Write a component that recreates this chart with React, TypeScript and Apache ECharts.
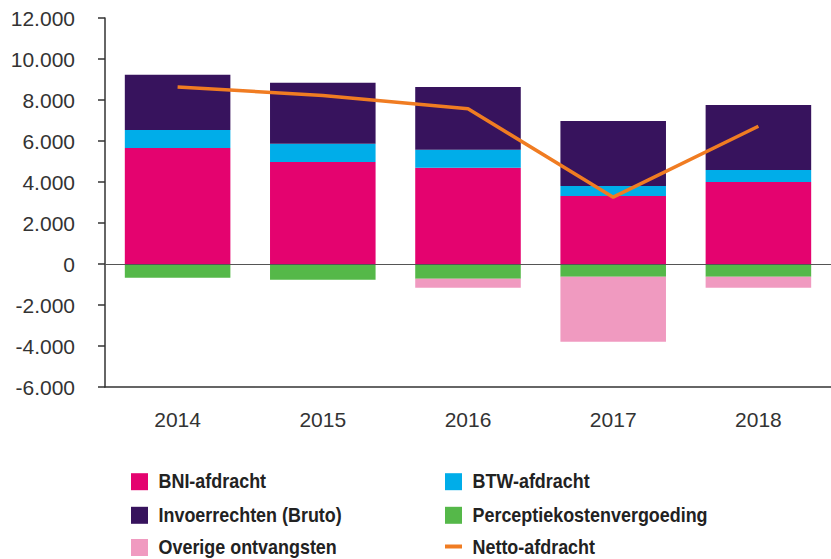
import React, { useEffect, useRef } from "react";
import * as echarts from "echarts";

const years = ["2014", "2015", "2016", "2017", "2018"];
const bniAfdracht = [5660, 4980, 4690, 3320, 4000];
const btwAfdracht = [880, 880, 880, 490, 590];
const invoerrechten = [2690, 2980, 3070, 3170, 3170];
const perceptiekosten = [-670, -770, -720, -620, -620];
const overigeOntvangsten = [0, 0, -440, -3170, -540];
const nettoAfdracht = [8640, 8220, 7570, 3260, 6720];

const seriesNames = [
  "BNI-afdracht",
  "BTW-afdracht",
  "Invoerrechten (Bruto)",
  "Perceptiekostenvergoeding",
  "Overige ontvangsten",
  "Netto-afdracht",
];

const COLORS = {
  bni: "#E4036F",
  btw: "#00ADE9",
  invoer: "#37135D",
  perceptie: "#55B849",
  overige: "#F09AC0",
  netto: "#F07C22",
};

function fmt(v: number): string {
  const neg = v < 0;
  const s = Math.abs(v).toString().replace(/\B(?=(\d{3})+(?!\d))/g, ".");
  return (neg ? "-" : "") + s;
}

export default function App() {
  const ref = useRef<HTMLDivElement>(null);

  useEffect(() => {
    document.body.style.margin = "0";
    if (!ref.current) return;
    const chart = echarts.init(ref.current, undefined, { renderer: "svg" });

    const legendItems = [
      { name: seriesNames[0], color: COLORS.bni, col: 0, row: 0, line: false },
      { name: seriesNames[1], color: COLORS.btw, col: 1, row: 0, line: false },
      { name: seriesNames[2], color: COLORS.invoer, col: 0, row: 1, line: false },
      { name: seriesNames[3], color: COLORS.perceptie, col: 1, row: 1, line: false },
      { name: seriesNames[4], color: COLORS.overige, col: 0, row: 2, line: false },
      { name: seriesNames[5], color: COLORS.netto, col: 1, row: 2, line: true },
    ];
    const colX = [131, 445];
    const rowY = [481.7, 515.3, 547.5];
    const graphics: any[] = [];
    legendItems.forEach((it) => {
      const x = colX[it.col];
      const y = rowY[it.row];
      if (it.line) {
        graphics.push({
          type: "rect",
          shape: { x: x, y: y - 3, width: 17, height: 4 },
          style: { fill: it.color },
        });
      } else {
        graphics.push({
          type: "rect",
          shape: { x: x, y: y - 8.5, width: 17, height: 17 },
          style: { fill: it.color },
        });
      }
      graphics.push({
        type: "text",
        x: x + 27.5,
        y: y,
        scaleX: 0.92,
        style: {
          text: it.name,
          fill: "#222222",
          font: "bold 19.5px 'Liberation Sans', Arial, sans-serif",
          textAlign: "left",
          textVerticalAlign: "middle",
        },
      });
    });

    const barBase = {
      type: "bar",
      stack: "total",
      barWidth: "72.7%",
      z: 2,
    };

    chart.setOption({
      animation: false,
      grid: { left: 105, right: -10, top: 18, bottom: 172, containLabel: false },
      xAxis: {
        type: "category",
        data: years,
        axisLine: { onZero: false, lineStyle: { color: "#333333", width: 1.5 } },
        axisTick: { show: false },
        axisLabel: {
          margin: 22,
          fontSize: 21,
          color: "#333333",
          fontFamily: "'Liberation Sans', Arial, sans-serif",
        },
      },
      yAxis: {
        type: "value",
        min: -6000,
        max: 12000,
        interval: 2000,
        axisLine: { show: true, lineStyle: { color: "#333333", width: 1.5 } },
        axisTick: { show: true, length: 7, lineStyle: { color: "#333333", width: 1.5 } },
        splitLine: { show: false },
        axisLabel: {
          margin: 30,
          fontSize: 21,
          color: "#333333",
          fontFamily: "'Liberation Sans', Arial, sans-serif",
          formatter: (v: number) => fmt(v),
        },
      },
      series: [
        { ...barBase, name: seriesNames[0], data: bniAfdracht, itemStyle: { color: COLORS.bni } },
        { ...barBase, name: seriesNames[1], data: btwAfdracht, itemStyle: { color: COLORS.btw } },
        { ...barBase, name: seriesNames[2], data: invoerrechten, itemStyle: { color: COLORS.invoer } },
        { ...barBase, name: seriesNames[3], data: perceptiekosten, itemStyle: { color: COLORS.perceptie } },
        { ...barBase, name: seriesNames[4], data: overigeOntvangsten, itemStyle: { color: COLORS.overige } },
        {
          type: "line",
          name: seriesNames[5],
          data: nettoAfdracht,
          symbol: "none",
          z: 4,
          lineStyle: { color: COLORS.netto, width: 3.5 },
          itemStyle: { color: COLORS.netto },
          markLine: {
            silent: true,
            symbol: "none",
            label: { show: false },
            lineStyle: { color: "#555555", width: 1.2, type: "solid" },
            data: [{ yAxis: 0 }],
            z: 3,
          },
        },
      ],
      graphic: graphics,
    });

    return () => chart.dispose();
  }, []);

  return <div ref={ref} style={{ width: 831, height: 559 }} />;
}
